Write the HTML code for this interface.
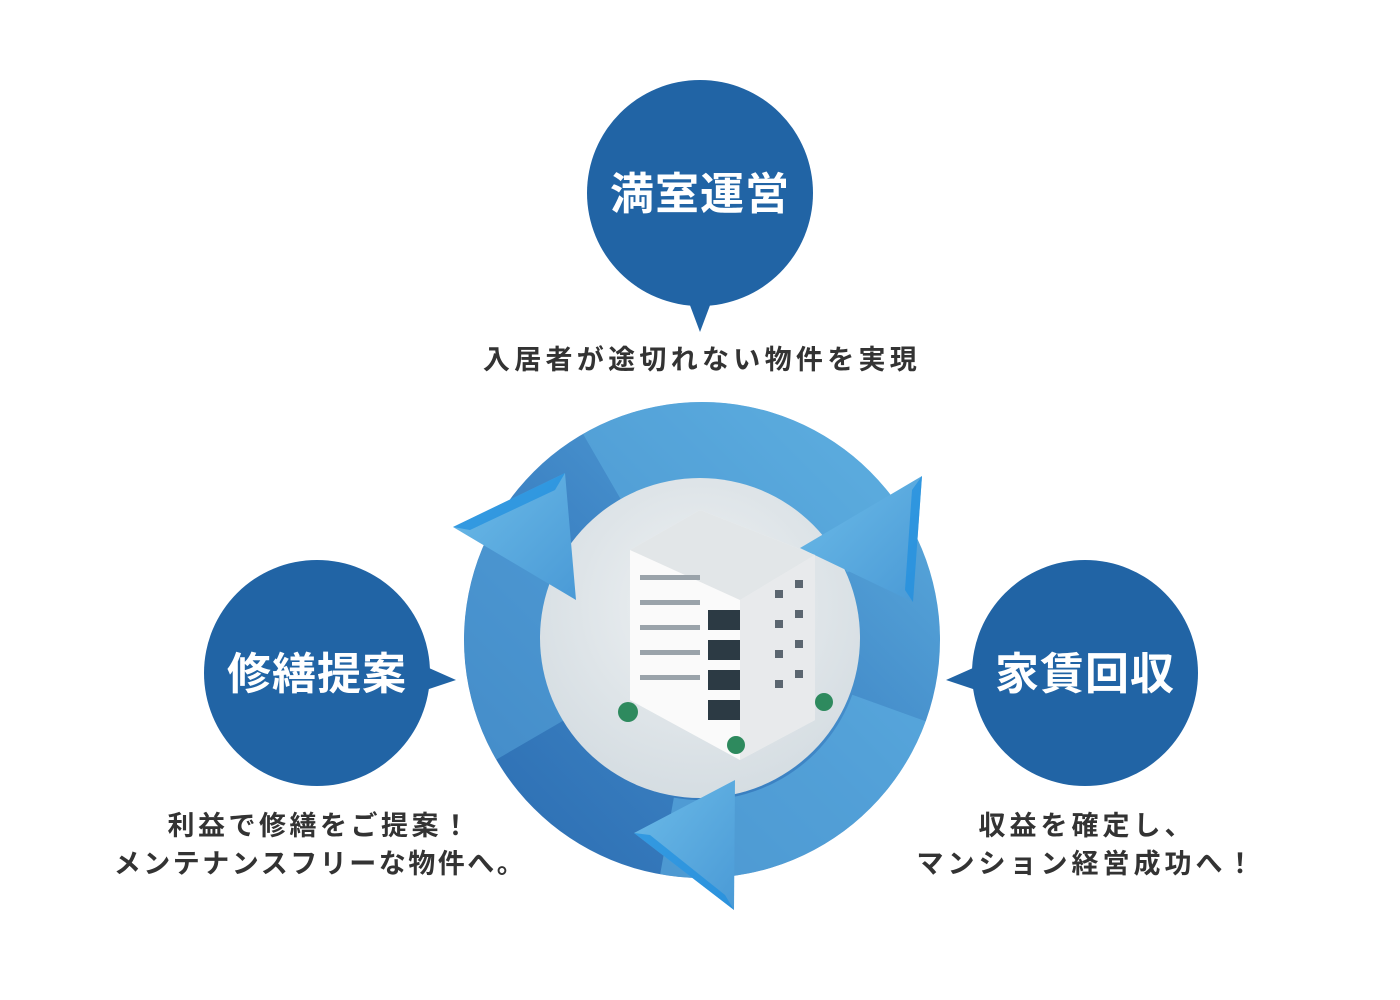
<!DOCTYPE html>
<html><head><meta charset="utf-8"><style>
html,body{margin:0;padding:0;background:#fff;}
body{width:1400px;height:1000px;position:relative;overflow:hidden;font-family:"Liberation Sans","Noto Sans CJK JP",sans-serif;}
.t{position:absolute;font-weight:bold;color:#333;font-size:27px;letter-spacing:2.5px;text-align:center;line-height:38px;white-space:nowrap;}
</style></head><body>
<svg width="1400" height="1000" style="position:absolute;left:0;top:0">
<defs>
<linearGradient id="ring" x1="0" y1="1" x2="1" y2="0">
<stop offset="0" stop-color="#2a6bb0"/><stop offset="0.5" stop-color="#3f86c6"/><stop offset="1" stop-color="#5fb0e0"/>
</linearGradient>
<linearGradient id="arr" x1="0" y1="0" x2="1" y2="1">
<stop offset="0" stop-color="#6cbbe8"/><stop offset="1" stop-color="#4a9ad6"/>
</linearGradient>
<radialGradient id="inner" cx="0.5" cy="0.4" r="0.6">
<stop offset="0" stop-color="#eef1f3"/><stop offset="1" stop-color="#d5dde2"/>
</radialGradient>
<clipPath id="ann"><circle cx="702" cy="640" r="238"/></clipPath>
</defs>
<circle cx="700" cy="193" r="113" fill="#2164a5"/>
<polygon points="688,300 712,300 700,332" fill="#2164a5"/>
<circle cx="317" cy="673" r="113" fill="#2164a5"/>
<polygon points="420,664 420,692 456,680" fill="#2164a5"/>
<circle cx="1085" cy="673" r="113" fill="#2164a5"/>
<polygon points="982,664 982,692 946,680" fill="#2164a5"/>
<circle cx="702" cy="640" r="238" fill="url(#ring)"/>
<g clip-path="url(#ann)">
<path d="M602.5 467.7 A199 199 0 0 1 882.4 555.9" stroke="#5fb0e2" stroke-width="78" fill="none" opacity="0.55"/>
<path d="M889 708 A199 199 0 0 1 667 836" stroke="#5fb0e2" stroke-width="78" fill="none" opacity="0.6"/>
<path d="M530 740 A199 199 0 0 1 539 526" stroke="#5fb0e2" stroke-width="78" fill="none" opacity="0.45"/>
</g>
<circle cx="700" cy="638" r="160" fill="url(#inner)"/>
<polygon points="922,476 913,602 800,548" fill="url(#arr)"/>
<polygon points="922,476 913,602 905,590 912,490" fill="#1e8fe0" opacity="0.7"/>
<polygon points="453,527 565,473 576,600" fill="url(#arr)"/>
<polygon points="453,527 565,473 555,490 470,530" fill="#1e8fe0" opacity="0.7"/>
<polygon points="634,833 734,910 735,780" fill="url(#arr)"/>
<polygon points="634,833 734,910 725,895 650,835" fill="#1e8fe0" opacity="0.7"/>
<g>
<polygon points="630,550 700,510 815,555 815,720 740,760 630,700" fill="#f4f4f4"/>
<polygon points="630,550 740,600 740,760 630,700" fill="#fafafa"/>
<polygon points="740,600 815,555 815,720 740,760" fill="#e8eaec"/>
<polygon points="630,550 700,510 815,555 740,600" fill="#e2e6e8"/>
<g fill="#9aa3aa">
<rect x="640" y="575" width="60" height="5"/><rect x="640" y="600" width="60" height="5"/><rect x="640" y="625" width="60" height="5"/><rect x="640" y="650" width="60" height="5"/><rect x="640" y="675" width="60" height="5"/>
</g>
<g fill="#2c3a44">
<rect x="708" y="610" width="32" height="20"/><rect x="708" y="640" width="32" height="20"/><rect x="708" y="670" width="32" height="20"/><rect x="708" y="700" width="32" height="20"/>
</g>
<g fill="#5b6670"><rect x="775" y="590" width="8" height="8"/><rect x="795" y="580" width="8" height="8"/><rect x="775" y="620" width="8" height="8"/><rect x="795" y="610" width="8" height="8"/><rect x="775" y="650" width="8" height="8"/><rect x="795" y="640" width="8" height="8"/><rect x="775" y="680" width="8" height="8"/><rect x="795" y="670" width="8" height="8"/></g>
<circle cx="628" cy="712" r="10" fill="#2e8a5e"/><circle cx="736" cy="745" r="9" fill="#2e8a5e"/><circle cx="824" cy="702" r="9" fill="#2e8a5e"/>
</g>
</svg>
<div style="position:absolute;left:587px;top:165px;width:226px;text-align:center;color:#fff;font-weight:bold;font-size:44px;line-height:60px;letter-spacing:1px">満室運営</div>
<div style="position:absolute;left:204px;top:645px;width:226px;text-align:center;color:#fff;font-weight:bold;font-size:44px;line-height:60px;letter-spacing:1px">修繕提案</div>
<div style="position:absolute;left:972px;top:645px;width:226px;text-align:center;color:#fff;font-weight:bold;font-size:44px;line-height:60px;letter-spacing:1px">家賃回収</div>
<div class="t" style="left:400px;width:604px;top:341px;letter-spacing:4.3px">入居者が途切れない物件を実現</div>
<div class="t" style="left:70px;width:500px;top:807px"><span style="letter-spacing:3.5px">利益で修繕をご提案！</span><br>メンテナンスフリーな物件へ。</div>
<div class="t" style="left:835px;width:504px;top:807px;letter-spacing:4px">収益を確定し、<br>マンション経営成功へ！</div>
</body></html>
